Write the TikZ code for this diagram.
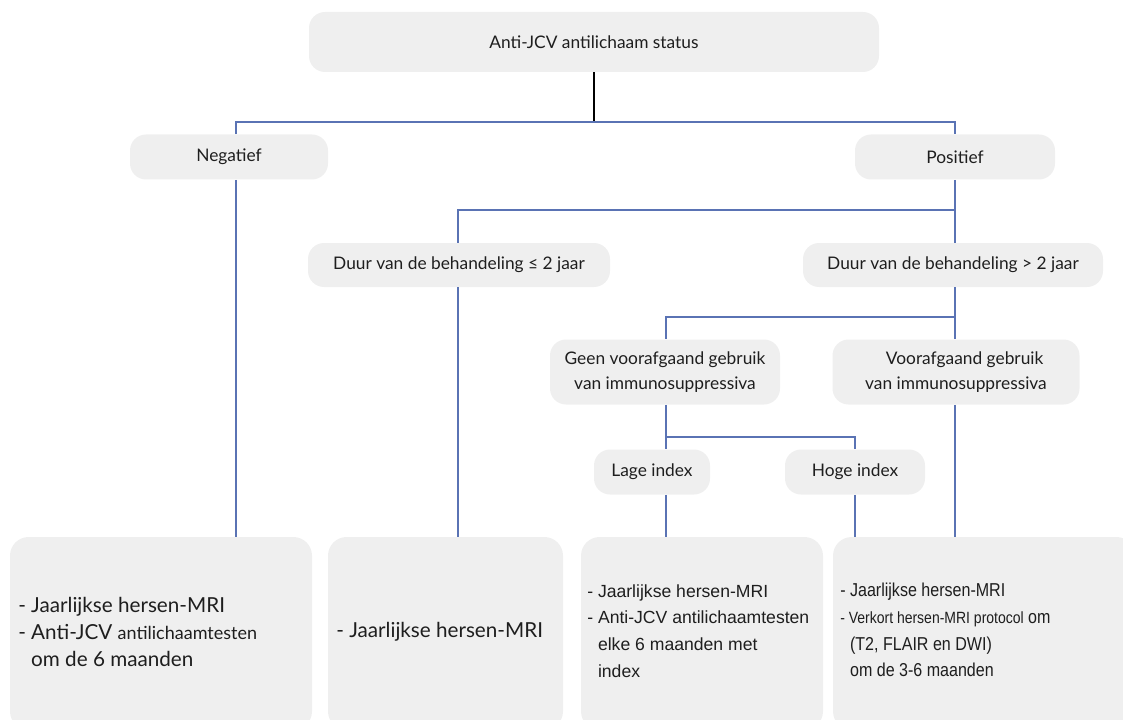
\documentclass[tikz,border=0pt]{standalone}
\usepackage{fontspec}
\setmainfont{Lato}
\newfontfamily\arialf{Liberation Sans}
\newfontfamily\arialn[FakeStretch=0.86]{Liberation Sans}
\definecolor{boxgray}{HTML}{EFEFEF}
\definecolor{lineblue}{HTML}{5A73B4}
\definecolor{txt}{HTML}{1E1E1E}
\begin{document}
\begin{tikzpicture}[x=0.75pt,y=-0.75pt,
  lbl/.style={draw=none,fill=boxgray,rounded corners=12pt,text=txt,font=\fontsize{13}{16.5}\selectfont,align=center,inner sep=0pt},
  bigbox/.style={draw=none,fill=boxgray,rounded corners=14pt,inner sep=0pt},
  bl/.style={draw=lineblue,line width=1.5pt},
  bk/.style={draw=black,line width=1.5pt},
  item/.style={anchor=west,text=txt,align=left,inner sep=0pt}]
\useasboundingbox (0,0) rectangle (1123,720);
\clip (0,0) rectangle (1123,720);
% column coordinates
\coordinate (cA) at (236,0);
\coordinate (cB) at (458,0);
\coordinate (cC) at (666,0);
\coordinate (cD) at (855,0);
\coordinate (cE) at (955,0);
\coordinate (j1) at (594,122);
\coordinate (j2) at (0,210);
\coordinate (j3) at (0,317);
\coordinate (j4) at (0,437);
% boxes
\node[lbl,minimum width=427.5pt,minimum height=45pt] (top) at (594,42) {Anti-JCV antilichaam status};
\node[lbl,minimum width=148.5pt,minimum height=33.75pt] (neg) at (229,157) {Negatief};
\node[lbl,minimum width=150pt,minimum height=33.75pt] (pos) at (955,157) {Positief};
\node[lbl,minimum width=226.5pt,minimum height=33pt] (d1) at (459,265) {Duur van de behandeling ≤ 2 jaar};
\node[lbl,minimum width=225pt,minimum height=33pt] (d2) at (953,265) {Duur van de behandeling > 2 jaar};
\node[lbl,minimum width=172.5pt,minimum height=48.75pt,font=\fontsize{13}{19}\selectfont] (geen) at (665,372) {Geen voorafgaand gebruik\\van immunosuppressiva};
\node[lbl,minimum width=185.25pt,minimum height=48.75pt,font=\fontsize{13}{19}\selectfont] (voor) at (956,372) {\hspace{1em}Voorafgaand gebruik\\van immunosuppressiva};
\node[lbl,minimum width=87pt,minimum height=33.75pt] (lage) at (652,472) {Lage index};
\node[lbl,minimum width=105pt,minimum height=33.75pt] (hoge) at (855,472) {Hoge index};
\node[bigbox,minimum width=226.5pt,minimum height=144.75pt] (b1) at (161,633.5) {};
\node[bigbox,minimum width=176.25pt,minimum height=144.75pt] (b2) at (445.5,633.5) {};
\node[bigbox,minimum width=181.5pt,minimum height=144.75pt] (b3) at (702,633.5) {};
\node[bigbox,minimum width=226.5pt,minimum height=144.75pt] (b4) at (984,633.5) {};
% texts
\node[item,font=\fontsize{15.5}{20.5}\selectfont] (t1) at (18,632) {- Jaarlijkse hersen-MRI\\- Anti-JCV {\fontsize{13.5}{20.5}\selectfont antilichaamtesten}\\\phantom{- }om de 6 maanden};
\node[item,font=\fontsize{15.5}{20.5}\selectfont] (t2) at (336,632) {- Jaarlijkse hersen-MRI};
\node[item,font=\arialf\fontsize{13.2}{20}\selectfont] (t3) at (587,631) {- Jaarlijkse hersen-MRI\\- Anti-JCV antilichaamtesten\\\phantom{- }elke 6 maanden met\\\phantom{- }index};
\node[item,font=\arialn\fontsize{14}{20}\selectfont] (t4) at (840,630) {- Jaarlijkse hersen-MRI\\{\fontsize{12.2}{20}\selectfont - Verkort hersen-MRI protocol} om\\\phantom{- }(T2, FLAIR en DWI)\\\phantom{- }om de 3-6 maanden};
% connectors
\draw[bk] (top.south) -- (j1);
\draw[bl] (cA |- neg.north) |- (j1) -| (cE |- pos.north);
\draw[bl] (cA |- neg.south) -- (cA |- b1.north);
\draw[bl] (cE |- pos.south) |- (cB |- j2) -- (cB |- d1.north);
\draw[bl] (cE |- j2) -- (cE |- d2.north);
\draw[bl] (cB |- d1.south) -- (cB |- b2.north);
\draw[bl] (cE |- d2.south) |- (cC |- j3) -- (cC |- geen.north);
\draw[bl] (cE |- j3) -- (cE |- voor.north);
\draw[bl] (cE |- voor.south) -- (cE |- b4.north);
\draw[bl] (cC |- geen.south) -- (cC |- lage.north);
\draw[bl] (cC |- j4) -| (cD |- hoge.north);
\draw[bl] (cC |- lage.south) -- (cC |- b3.north);
\draw[bl] (cD |- hoge.south) -- (cD |- b4.north);
\end{tikzpicture}
\end{document}
